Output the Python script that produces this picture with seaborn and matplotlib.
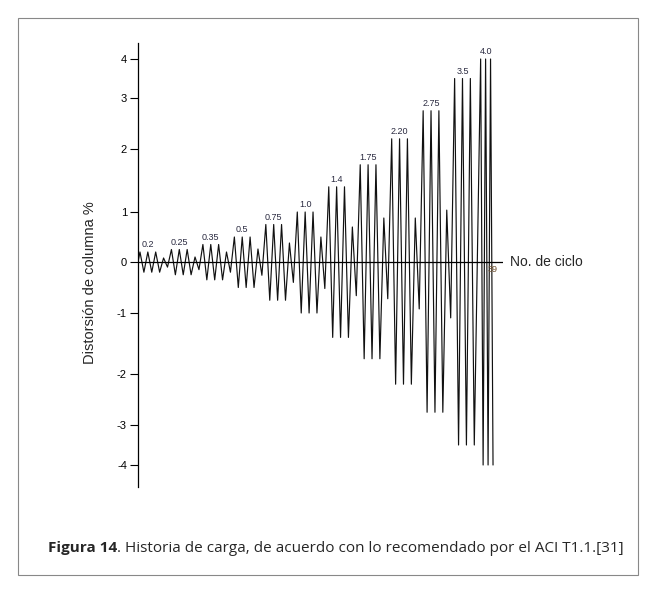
import numpy as np
import pandas as pd
import matplotlib
matplotlib.use("Agg")
import matplotlib.pyplot as plt
import seaborn as sns
from matplotlib.patches import Rectangle

sns.set_style("white")
plt.rcParams["font.family"] = ["Liberation Sans", "DejaVu Sans"]

# ---------------------------------------------------------------
# DATA
# ---------------------------------------------------------------
group_labels = ["0.2", "0.25", "0.35", "0.5", "0.75", "1.0", "1.4", "1.75",
                "2.20", "2.75", "3.5", "4.0"]
group_amp = [0.2, 0.25, 0.35, 0.5, 0.75, 1.0, 1.4, 1.75, 2.2, 2.75, 3.5, 4.0]
# small intermediate cycle after each group (none after the last two)
small_up = [0.08, 0.1, 0.2, 0.26, 0.38, 0.5, 0.7, 0.88, 0.88, 1.03]
small_down = [0.1, 0.15, 0.2, 0.26, 0.4, 0.52, 0.66, 0.72, 0.92, 1.08]
group_period = [1, 1, 1, 1, 1, 1, 1, 1, 1, 1, 1, 0.63]
group_gap = [0, 0, 0, 0, 0, 0, 0, 0, 0, 0, 0, 0.4]

# y-axis of the original is not linear: tick value -> offset (px) from zero
tick_vals = [-6, -4, -3, -2, -1, 0, 1, 2, 3, 4, 6]
tick_offs = [-283, -203, -163, -112, -51, 0, 50, 113, 164, 203, 283]
tick_labels = ["-4", "-3", "-2", "-1", "0", "1", "2", "3", "4"]

# ---------------------------------------------------------------
# BUILD LOADING HISTORY
# ---------------------------------------------------------------
cyc = [0.0]
drift = [0.0]
label_pos = []
t = 0.0
for i, A in enumerate(group_amp):
    p = group_period[i]
    t += group_gap[i]
    label_pos.append((t + 1.25 * p, A))
    for k in range(3):
        cyc += [t + 0.25 * p, t + 0.75 * p]
        drift += [A, -A]
        t += p
    if i < len(small_up):
        cyc += [t + 0.25, t + 0.75]
        drift += [small_up[i], -small_down[i]]
        t += 1
df = pd.DataFrame({"cycle": cyc, "drift": drift})

# ---------------------------------------------------------------
# PLOT
# ---------------------------------------------------------------
W, H = 656, 592
fig = plt.figure(figsize=(W / 100, H / 100), dpi=100)
ax = fig.add_axes([138 / W, 1 - 487 / H, (503 - 138) / W, (487 - 43) / H])

fwd = lambda v: np.interp(v, tick_vals, tick_offs)
inv = lambda o: np.interp(o, tick_offs, tick_vals)
ax.set_yscale("function", functions=(fwd, inv))

sns.lineplot(data=df, x="cycle", y="drift", sort=False, estimator=None,
             color="#111111", linewidth=0.85, ax=ax)

ax.axhline(0, color="black", linewidth=0.9)
ax.set_xlim(0, 46.4)
ax.set_ylim(-4.55, 4.4)
ax.set_yticks([-4, -3, -2, -1, 0, 1, 2, 3, 4])
ax.set_yticklabels(tick_labels)
ax.set_xticks([])
ax.tick_params(axis="y", direction="out", length=6, width=0.8, colors="black",
               labelsize=8, pad=2, left=True)
for s in ["top", "right", "bottom"]:
    ax.spines[s].set_visible(False)
ax.spines["left"].set_linewidth(0.9)
ax.spines["left"].set_color("black")

ax.set_xlabel("")
ax.set_ylabel("Distorsión de columna %", fontsize=10.5)
ax.yaxis.set_label_coords(-0.112, 0.46)

for lab, (x, y) in zip(group_labels, label_pos):
    ax.annotate(lab, (x, y), xytext=(0, 2), textcoords="offset points",
                ha="center", va="bottom", fontsize=6.5, color="#2a2a40")

ax.annotate("39", (t - 0.15, 0), xytext=(0, -2), textcoords="offset points",
            ha="center", va="top", fontsize=6.5, color="#6a4c2c")
ax.text(1.019, 0, "No. de ciclo", transform=ax.get_yaxis_transform(),
        ha="left", va="center", fontsize=10)

# caption
cap_y = 1 - 548 / H
t1 = fig.text(48 / W, cap_y, "Figura 14", fontsize=11, fontweight="bold",
              family=["Open Sans", "DejaVu Sans"], va="center")
fig.canvas.draw()
bb = t1.get_window_extent()
fig.text(bb.x1 / W, cap_y,
         ". Historia de carga, de acuerdo con lo recomendado por el ACI T1.1.[31]",
         fontsize=11, family=["Open Sans", "DejaVu Sans"], va="center")

# outer frame
fig.patches.append(Rectangle((18 / W, 1 - 575 / H), (638 - 18) / W, (575 - 18) / H,
                             transform=fig.transFigure, fill=False,
                             edgecolor="#888888", linewidth=0.8))

fig.savefig("out.png", dpi=100)
